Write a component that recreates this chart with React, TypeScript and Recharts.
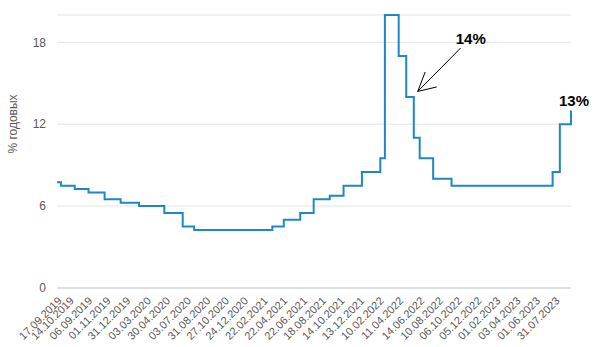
import { LineChart, Line, XAxis, YAxis, CartesianGrid, ReferenceDot } from "recharts";

// key rate changes (date of change → % p.a.)
const rateDates = [
    "2019-06-05", "2019-06-17", "2019-07-29", "2019-09-09", "2019-10-28", "2019-12-16",
    "2020-02-10", "2020-04-27", "2020-06-22", "2020-07-27", "2021-03-22", "2021-04-26",
    "2021-06-15", "2021-07-26", "2021-09-13", "2021-10-25", "2021-12-20", "2022-02-14",
    "2022-02-28", "2022-04-11", "2022-05-04", "2022-05-27", "2022-06-14", "2022-07-25",
    "2022-09-19", "2023-07-24", "2023-08-15", "2023-09-18",
];
const rateValues = [
    7.75, 7.5, 7.25, 7.0, 6.5, 6.25,
    6.0, 5.5, 4.5, 4.25, 4.5, 5.0,
    5.5, 6.5, 6.75, 7.5, 8.5, 9.5,
    20, 17, 14, 11, 9.5, 8.0,
    7.5, 8.5, 12, 13,
];

// where the axis labels sit, and what they say
const tickDates = [
    "2019-06-05", "2019-07-12", "2019-09-06", "2019-11-01", "2019-12-31", "2020-03-03",
    "2020-04-30", "2020-07-03", "2020-08-31", "2020-10-27", "2020-12-24", "2021-02-22",
    "2021-04-22", "2021-06-22", "2021-08-18", "2021-10-14", "2021-12-13", "2022-02-10",
    "2022-04-11", "2022-06-14", "2022-08-10", "2022-10-06", "2022-12-05", "2023-02-01",
    "2023-04-03", "2023-06-01", "2023-07-31",
];
const tickLabels = [
    "17.09.2019", "14.10.2019", "06.09.2019", "01.11.2019", "31.12.2019", "03.03.2020",
    "30.04.2020", "03.07.2020", "31.08.2020", "27.10.2020", "24.12.2020", "22.02.2021",
    "22.04.2021", "22.06.2021", "18.08.2021", "14.10.2021", "13.12.2021", "10.02.2022",
    "11.04.2022", "14.06.2022", "10.08.2022", "06.10.2022", "05.12.2022", "01.02.2023",
    "03.04.2023", "01.06.2023", "31.07.2023",
];
const yTicks = [0, 6, 12, 18];

// annotation: arrow tip and last value
const arrowDate = "2022-06-08";
const arrowValue = 14.4;
const arrowText = "14%";
const lastText = "13%";

// ─── helpers ────────────────────────────────────────────────────────────────

const toUtc = (s: string) => {
    const [y, m, d] = s.split("-").map(Number);
    return Date.UTC(y, m - 1, d);
};
const t0 = toUtc(rateDates[0]);
const dayOf = (s: string) => Math.round((toUtc(s) - t0) / 86400000);

const rows = rateDates.map((d, i) => ({ t: dayOf(d), v: rateValues[i] }));
const tickPos = tickDates.map(dayOf);
const labelAt = new Map(tickPos.map((p, i) => [p, tickLabels[i]]));
const lastDay = rows[rows.length - 1].t;

const FONT = "'Liberation Sans', Arial, sans-serif";
const AXIS = { fill: "#595959", fontSize: 11, fontFamily: FONT };
const BLUE = "#1f87c6";

function YTitle() {
    return (
        <text
            x={0}
            y={0}
            transform="translate(17, 124) rotate(-90)"
            textAnchor="middle"
            fill="#595959"
            fontSize={12}
            fontFamily={FONT}
        >
            % годовых
        </text>
    );
}

function ArrowNote(p: { cx?: number; cy?: number }) {
    const cx = p.cx ?? 0;
    const cy = p.cy ?? 0;
    return (
        <g>
            <line x1={cx} y1={cy} x2={cx + 43} y2={cy - 43.5} stroke="#000" strokeWidth={1} />
            <line x1={cx} y1={cy} x2={cx + 7.5} y2={cy - 19.5} stroke="#000" strokeWidth={1} />
            <line x1={cx} y1={cy} x2={cx + 19} y2={cy - 4.5} stroke="#000" strokeWidth={1} />
            <text x={cx + 38} y={cy - 47.5} fontSize={15} fontWeight="bold" fontFamily={FONT} fill="#000">
                {arrowText}
            </text>
        </g>
    );
}

function LastNote(p: { cx?: number; cy?: number }) {
    const cx = p.cx ?? 0;
    const cy = p.cy ?? 0;
    return (
        <text x={cx + 3} y={cy - 4.5} textAnchor="middle" fontSize={15} fontWeight="bold" fontFamily={FONT} fill="#000">
            {lastText}
        </text>
    );
}

export default function App() {
    return (
        <div style={{ position: "absolute", left: 0, top: 0, background: "#fff" }}>
            <LineChart
                width={595}
                height={347}
                data={rows}
                margin={{ top: 15, right: 24, left: 0, bottom: 0 }}
            >
                <CartesianGrid vertical={false} stroke="#e4e4e4" />
                <XAxis
                    type="number"
                    dataKey="t"
                    domain={[0, lastDay]}
                    ticks={tickPos}
                    interval={0}
                    tickFormatter={(v: number) => labelAt.get(v) ?? ""}
                    angle={-45}
                    textAnchor="end"
                    tick={AXIS}
                    tickLine={false}
                    axisLine={{ stroke: "#c9d0da" }}
                    height={59}
                />
                <YAxis
                    domain={[0, 20]}
                    ticks={yTicks}
                    tick={{ ...AXIS, fontSize: 12 }}
                    tickLine={false}
                    axisLine={false}
                    tickSize={0}
                    tickMargin={11}
                    width={57}
                    label={<YTitle />}
                />
                <Line
                    type="stepAfter"
                    dataKey="v"
                    stroke={BLUE}
                    strokeWidth={2}
                    dot={false}
                    isAnimationActive={false}
                />
                <ReferenceDot
                    x={dayOf(arrowDate)}
                    y={arrowValue}
                    ifOverflow="visible"
                    shape={<ArrowNote />}
                />
                <ReferenceDot
                    x={lastDay}
                    y={rateValues[rateValues.length - 1]}
                    ifOverflow="visible"
                    shape={<LastNote />}
                />
            </LineChart>
        </div>
    );
}
